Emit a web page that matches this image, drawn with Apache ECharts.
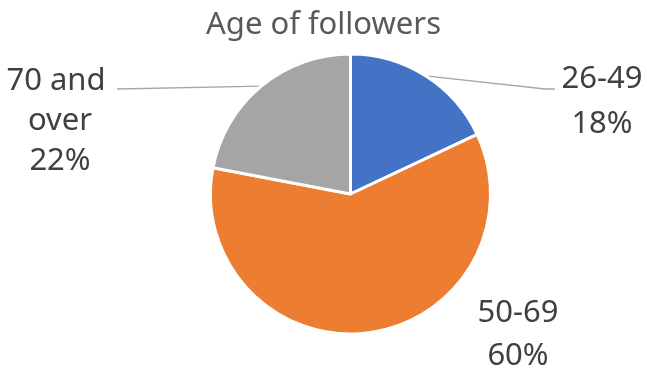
<!DOCTYPE html>
<html>
<head>
<meta charset="utf-8">
<script src="https://cdn.jsdelivr.net/npm/echarts@6/dist/echarts.min.js"></script>
<style>
  html, body { margin: 0; padding: 0; background: #ffffff; }
  #chart { width: 647px; height: 372px; }
</style>
</head>
<body>
<div id="chart"></div>
<script>
// Age groups of followers and their share (percent)
const categories = ['26-49', '50-69', '70 and over'];
const shares = [18, 60, 22];
const colors = ['#4472C4', '#ED7D31', '#A5A5A5'];

// Label anchor (centre x, top y, line spacing) and leader-line end for each slice
const labelAnchors = [
  { x: 602, y: 57, lh: 45, line: [[545, 89], [555, 89]] },
  { x: 518, y: 292, lh: 43, line: null },
  { x: 60, y: 61, lh: 40, line: [[117, 89]] }
];

const chart = echarts.init(document.getElementById('chart'), null, { renderer: 'canvas' });

chart.setOption({
  animation: false,
  backgroundColor: '#ffffff',
  title: {
    text: 'Age of followers',
    left: 'center',
    top: 5,
    textStyle: {
      fontFamily: 'Noto Sans',
      fontSize: 31,
      fontWeight: 'normal',
      color: '#595959'
    }
  },
  series: [{
    type: 'pie',
    center: [350.5, 194],
    radius: 140,
    startAngle: 90,
    clockwise: true,
    avoidLabelOverlap: false,
    itemStyle: { borderColor: '#ffffff', borderWidth: 3 },
    label: {
      show: true,
      position: 'outside',
      formatter: '{b}\n{d}%',
      fontFamily: 'Noto Sans',
      fontSize: 31,
      lineHeight: 42,
      color: '#404040',
      width: 112,
      overflow: 'break',
      align: 'center'
    },
    labelLine: {
      show: true,
      length: 10,
      length2: 10,
      lineStyle: { color: '#A6A6A6', width: 1.3 }
    },
    emphasis: { disabled: true },
    labelLayout: function (params) {
      const a = labelAnchors[params.dataIndex];
      const out = { x: a.x, y: a.y, align: 'center', verticalAlign: 'top' };
      if (a.line && params.labelLinePoints) {
        out.labelLinePoints = [params.labelLinePoints[0]].concat(a.line);
      }
      return out;
    },
    data: categories.map(function (name, i) {
      const item = {
        name: name,
        value: shares[i],
        itemStyle: { color: colors[i] },
        label: { lineHeight: labelAnchors[i].lh }
      };
      if (!labelAnchors[i].line) item.labelLine = { show: false };
      return item;
    })
  }]
});
</script>
</body>
</html>
